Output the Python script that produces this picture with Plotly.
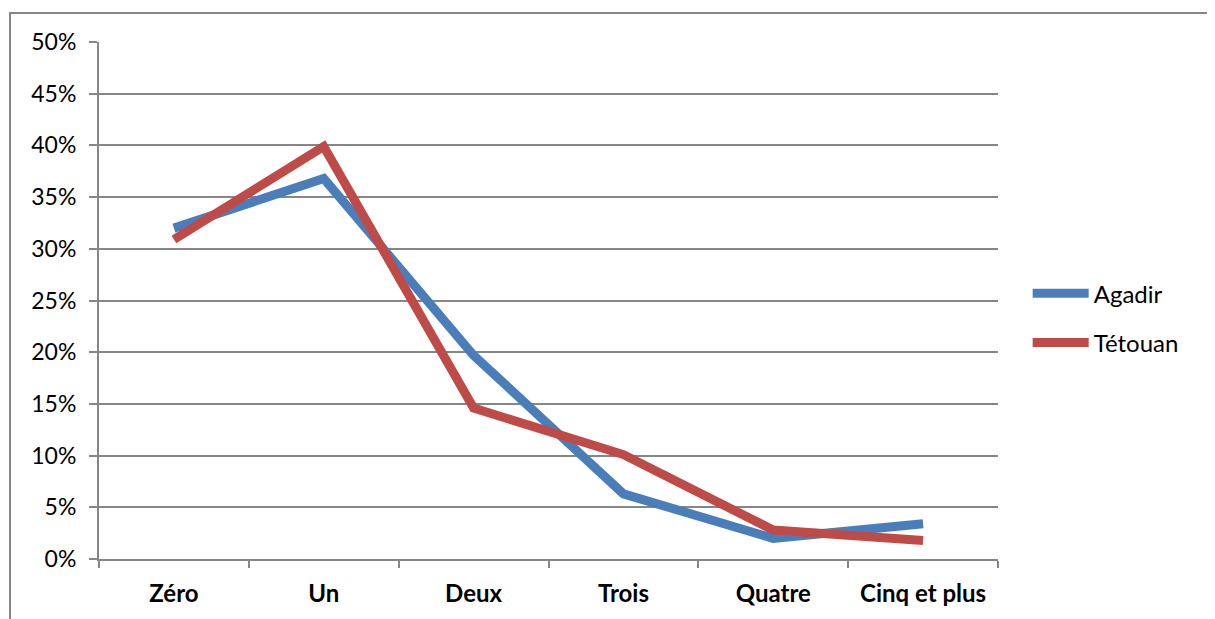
import plotly.graph_objects as go

categories = ["Zéro", "Un", "Deux", "Trois", "Quatre", "Cinq et plus"]
agadir = [0.320, 0.368, 0.197, 0.063, 0.020, 0.034]
tetouan = [0.309, 0.399, 0.146, 0.101, 0.028, 0.018]
y_ticks = [0, 0.05, 0.10, 0.15, 0.20, 0.25, 0.30, 0.35, 0.40, 0.45, 0.50]

FONT = "Lato, 'Open Sans', sans-serif"
GREY = "#868686"

fig = go.Figure()
fig.add_trace(go.Scatter(x=categories, y=agadir, mode="lines", name="Agadir",
                         legendgroup="a",
                         line=dict(color="#4A7EBB", width=9)))
fig.add_trace(go.Scatter(x=categories, y=tetouan, mode="lines", name="Tétouan",
                         legendgroup="t",
                         line=dict(color="#BE4B48", width=9)))

# page is offset by the 8px body margin, so margins are shifted to compensate
fig.update_layout(
    width=1215, height=619,
    margin=dict(l=91, r=225, t=34, b=68),
    paper_bgcolor="white", plot_bgcolor="white",
    font=dict(family=FONT, size=23, color="black"),
    showlegend=True,
    legend=dict(x=1.033, y=0.466, xanchor="left", yanchor="middle",
                font=dict(size=24), itemwidth=56, tracegroupgap=15),
    xaxis=dict(type="category", range=[-0.5, 5.5], tickson="boundaries",
               ticks="outside", ticklen=7, tickcolor=GREY, tickwidth=2,
               showline=True, linecolor=GREY, linewidth=2,
               showgrid=False, ticklabelstandoff=12,
               tickfont=dict(size=24, family=FONT, weight="bold")),
    yaxis=dict(range=[0, 0.5], tickvals=y_ticks, tickformat=".0%",
               ticks="outside", ticklen=8, tickcolor=GREY, tickwidth=2,
               showline=True, linecolor=GREY, linewidth=2, ticklabelstandoff=8,
               tickfont=dict(size=23),
               showgrid=True, gridcolor=GREY, gridwidth=2, zeroline=False),
    shapes=[dict(type="rect", xref="paper", yref="paper",
                 x0=-0.099, x1=1.25, y0=-0.15, y1=1.056,
                 line=dict(color=GREY, width=2), layer="below")],
)

fig.write_html("out.html")
